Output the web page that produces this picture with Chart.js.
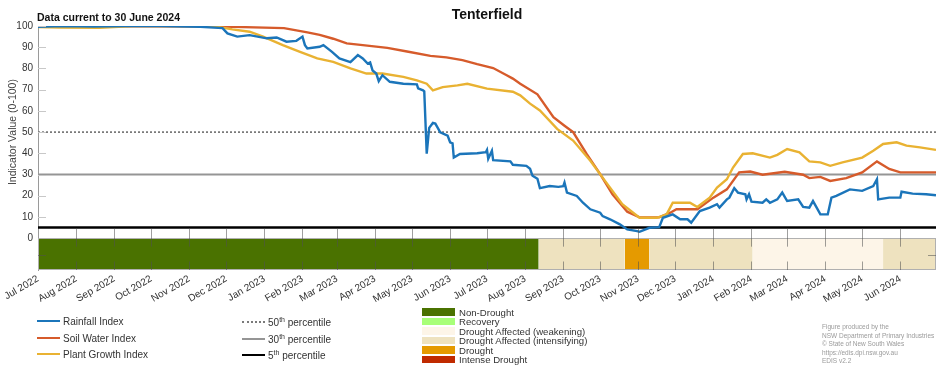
<!DOCTYPE html>
<html>
<head>
<meta charset="utf-8">
<script src="https://cdn.jsdelivr.net/npm/chart.js@4.4.1/dist/chart.umd.min.js"></script>
<style>
  body { margin: 0; background: #fff; font-family: "Liberation Sans", Arial, sans-serif; }
  #wrap { position: relative; width: 952px; height: 370px; overflow: hidden; }
  #chart { position: absolute; left: 0; top: 0; }
  .row { position: absolute; display: flex; align-items: center; height: 14px; font-size: 10px; color: #333; white-space: nowrap; }
  .row .sample { width: 23px; margin-right: 3px; }
  .row sup { font-size: 7px; line-height: 0; vertical-align: 4px; }
  .cat { position: absolute; display: flex; align-items: center; height: 9px; font-size: 9.6px; line-height: 9px; color: #333; white-space: nowrap; }
  .cat .sw { width: 33px; height: 7.5px; margin-right: 4px; }
  #credits { position: absolute; left: 822px; top: 323px; font-size: 6.5px; line-height: 8.6px; color: #9a9a9a; }
</style>
</head>
<body>
<div id="wrap">
  <canvas id="chart" width="952" height="370"></canvas>
  <div id="legend"></div>
  <div id="credits">Figure produced by the<br>NSW Department of Primary Industries<br>&copy; State of New South Wales<br>https://edis.dpi.nsw.gov.au<br>EDIS v2.2</div>
</div>
<script>
// x values are days since 1 July 2022
const monthLabels = ["Jul 2022","Aug 2022","Sep 2022","Oct 2022","Nov 2022","Dec 2022",
  "Jan 2023","Feb 2023","Mar 2023","Apr 2023","May 2023","Jun 2023",
  "Jul 2023","Aug 2023","Sep 2023","Oct 2023","Nov 2023","Dec 2023",
  "Jan 2024","Feb 2024","Mar 2024","Apr 2024","May 2024","Jun 2024"];
const yTicks = [0,10,20,30,40,50,60,70,80,90,100];

const rainfallDays = [0,20,45,70,100,132,150,154,162,172,186,194,202,210,215,217,219,229,232,239,
  245,254,260,264,268,270,272,275,277,280,286,297,308,309,313,314,316,318,321,323,
  327,333,335,337,338,343,357,364,365,366,369,370,384,386,397,400,402,406,408,416,
  423,427,428,430,438,443,449,457,459,465,473,479,487,489,497,505,508,516,522,528,
  531,538,546,552,554,560,562,566,569,575,576,578,580,589,592,595,601,605,609,618,
  622,627,630,633,636,642,645,649,660,670,679,682,683,692,701,702,711,722,730];
const rainfallIndex = [99.6,100,99.7,100,100,99.6,99,96.5,95,95.7,94.2,94.6,92.6,93,95,91,89.4,90.2,91,87.8,
  84.7,83,86.3,84.7,82.3,82.8,79,77.6,74,76.8,73.7,72.8,72.5,70.6,69.7,69.2,39.8,52,54.3,54,
  49.9,48.3,45.2,44.7,38,39.7,40,40.5,41.6,37.4,41.2,36.8,36.2,34.6,34.1,32.7,29.4,28,23.6,24.6,
  24.2,24.5,26.2,21.5,19.9,16.7,13.6,12,10.4,8.9,6.5,4.1,3.3,3,4.9,5.2,9.6,11.2,8.9,8.9,
  7.3,12.8,14.4,16,14.4,18.3,19.1,23.6,21.5,20.7,18.3,20.7,17.2,16.7,18.3,16.7,18.3,21.5,17.5,18.3,
  14.7,14.4,17.5,14.4,11.2,11.2,19.1,19.9,23,22.3,24.6,27.8,18.3,19.1,19.1,21.9,21,20.7,20.2];

const soilDays = [0,100,150,200,219,229,240,251,264,284,300,319,332,345,357,370,381,386,392,406,
  419,428,435,446,457,467,479,489,505,514,519,536,549,560,570,579,589,607,622,627,
  636,644,657,670,682,692,701,730];
const soilWater = [100,99.9,99.7,99,97,95.8,94,91.8,91,89.7,88,85.9,85.2,83.9,82,80.2,76.8,75.2,72.8,67.8,
  57,53,50,39.7,30.2,20.7,12.5,9.8,9.8,12,13.6,13.6,19.1,23,31,31.4,29.9,31.3,29.9,28.3,
  28.9,27,28.3,31,36.2,32.6,31,31];

const plantDays = [0,18,50,77,142,145,158,172,183,199,213,227,240,254,267,280,297,308,316,321,
  329,341,349,365,386,392,400,408,422,435,449,462,475,489,503,511,516,530,536,546,
  552,560,565,573,581,595,601,609,619,627,636,644,654,670,679,687,698,706,717,730];
const plantGrowth = [99.5,99.3,99.2,100,100,99.7,98.4,97.3,95,91,87.8,84.7,83.1,80,77.6,77.6,76,74.4,72.8,69.7,
  71.2,72,72.8,70.5,69,67.3,63.4,60.2,51.5,46,36.5,26.2,16,9.6,9.6,11.2,16.7,16.7,14.7,19.1,
  23.9,27.8,33.3,39.7,40,38,39.3,42,40.4,36.2,35.7,34.1,35.7,38,41.2,44.4,45.2,43.6,42.8,41.6];

const indexNames = ["Rainfall Index","Soil Water Index","Plant Growth Index"];
const indexColours = ["#1b75ba","#d65b2b","#e9b232"];

const percentiles = [50,30,5];
const percentileNames = ["50<sup>th</sup> percentile","30<sup>th</sup> percentile","5<sup>th</sup> percentile"];

const droughtCategories = ["Non-Drought","Recovery","Drought Affected (weakening)",
  "Drought Affected (intensifying)","Drought","Intense Drought"];
const categoryColours = ["#4a7200","#a8ff78","#fdf5e8","#eee2bf","#e59a00","#c02a00"];
const periodStart = [0,407,477,497,581,687];
const periodEnd = [407,477,497,581,687,730];
const periodCategory = [0,3,4,3,2,3];

const lastDay = 730;
const monthIdx = {Jan:0,Feb:1,Mar:2,Apr:3,May:4,Jun:5,Jul:6,Aug:7,Sep:8,Oct:9,Nov:10,Dec:11};
const start = Date.UTC(2022,6,1);
const monthTicks = monthLabels.map(l => {
  const [m, y] = l.split(" ");
  return (Date.UTC(+y, monthIdx[m], 1) - start) / 86400000;
});

const pts = (xs, ys) => xs.map((x, i) => ({x: x, y: ys[i]}));

const datasets = [];
[[rainfallDays, rainfallIndex], [soilDays, soilWater], [plantDays, plantGrowth]].forEach((s, i) => {
  datasets.push({
    label: indexNames[i], data: pts(s[0], s[1]),
    borderColor: indexColours[i], borderWidth: 2.4, pointRadius: 0, tension: 0,
    order: [1,3,2][i]
  });
});
const pStyles = [
  {borderColor: "#7a7a7a", borderWidth: 1.6, borderDash: [2,2]},
  {borderColor: "#959595", borderWidth: 2},
  {borderColor: "#000", borderWidth: 2.4}
];
percentiles.forEach((p, i) => {
  datasets.push(Object.assign({
    label: "p" + p, data: [{x: 0, y: p}, {x: lastDay, y: p}], pointRadius: 0, order: 5 + i
  }, pStyles[i]));
});
periodStart.forEach((s, i) => {
  datasets.push({
    label: droughtCategories[periodCategory[i]],
    data: [{x: s, y: 0}, {x: periodEnd[i], y: 0}],
    borderWidth: 0, pointRadius: 0,
    backgroundColor: categoryColours[periodCategory[i]],
    fill: {value: -15}, order: 20
  });
});

const decorations = {
  id: "decorations",
  afterDatasetsDraw(chart) {
    const {ctx, chartArea: a, scales: {x, y}} = chart;
    ctx.save();
    ctx.lineWidth = 1;
    // band outline
    ctx.strokeStyle = "#b0b0b0";
    const bt = Math.round(y.getPixelForValue(0)) + 0.5, bb = Math.round(y.getPixelForValue(-15)) - 0.5;
    ctx.strokeRect(a.left + 0.5, bt, a.right - a.left - 1, bb - bt);
    // month tick marks
    ctx.strokeStyle = "rgba(80,80,80,0.55)";
    monthTicks.forEach((d, i) => {
      if (i === 0) return;
      const px = Math.round(x.getPixelForValue(d)) + 0.5;
      ctx.beginPath();
      ctx.moveTo(px, y.getPixelForValue(4.6)); ctx.lineTo(px, y.getPixelForValue(-4));
      ctx.moveTo(px, y.getPixelForValue(-11)); ctx.lineTo(px, y.getPixelForValue(-15));
      ctx.stroke();
    });
    // inner y tick marks
    ctx.strokeStyle = "#c8c8c8";
    yTicks.forEach(v => {
      if (v === 0) return;
      const py = Math.round(y.getPixelForValue(v)) + 0.5;
      ctx.beginPath(); ctx.moveTo(a.left, py); ctx.lineTo(a.left + 8, py); ctx.stroke();
    });
    ctx.strokeStyle = "rgba(80,80,80,0.55)";
    const pm = Math.round(y.getPixelForValue(-8)) + 0.5;
    ctx.beginPath();
    ctx.moveTo(a.left, pm); ctx.lineTo(a.left + 8, pm);
    ctx.moveTo(a.right - 8, pm); ctx.lineTo(a.right, pm);
    ctx.stroke();
    ctx.restore();
  },
  afterDraw(chart) {
    const {ctx, chartArea: a, scales: {y}} = chart;
    ctx.save();
    ctx.fillStyle = "#111";
    ctx.font = "bold 14px 'Liberation Sans', Arial, sans-serif";
    ctx.textAlign = "center";
    ctx.fillText("Tenterfield", (a.left + a.right) / 2, 19);
    ctx.font = "bold 10.5px 'Liberation Sans', Arial, sans-serif";
    ctx.textAlign = "left";
    ctx.fillText("Data current to 30 June 2024", 37, 21);
    ctx.fillStyle = "#444";
    ctx.font = "10.5px 'Liberation Sans', Arial, sans-serif";
    ctx.translate(13, (y.getPixelForValue(0) + y.getPixelForValue(100)) / 2);
    ctx.rotate(-Math.PI / 2);
    ctx.textAlign = "center";
    ctx.textBaseline = "middle";
    ctx.fillText("Indicator Value (0-100)", 0, 0);
    ctx.restore();
  }
};

new Chart(document.getElementById("chart"), {
  type: "line",
  data: {datasets: datasets},
  plugins: [decorations],
  options: {
    responsive: false,
    animation: false,
    layout: {padding: {top: 26, right: 16, left: 0, bottom: 0}},
    plugins: {legend: {display: false}, tooltip: {enabled: false}},
    scales: {
      x: {
        type: "linear", min: 0, max: lastDay,
        afterBuildTicks: s => { s.ticks = monthTicks.map(v => ({value: v})); },
        afterFit: s => { s.height = 100; },
        ticks: {
          autoSkip: false, maxRotation: 30, minRotation: 30, padding: 3,
          color: "#333", font: {size: 10, family: "'Liberation Sans', Arial, sans-serif"},
          callback: (v, i) => monthLabels[i]
        },
        grid: {display: false, drawTicks: false},
        border: {display: false}
      },
      y: {
        min: -15, max: 100,
        afterBuildTicks: s => { s.ticks = yTicks.map(v => ({value: v})); },
        afterFit: s => { s.width = 38; },
        ticks: {
          padding: 5, color: "#333", font: {size: 10, family: "'Liberation Sans', Arial, sans-serif"}
        },
        grid: {display: false, drawTicks: false},
        border: {display: true, color: "#9a9a9a", width: 1}
      }
    }
  }
});

// legends
const legend = document.getElementById("legend");
const indexRows = [321, 338, 354];
indexNames.forEach((n, i) => {
  const r = document.createElement("div");
  r.className = "row";
  r.style.left = "37px"; r.style.top = (indexRows[i] - 7) + "px";
  r.innerHTML = `<span class="sample" style="border-top:2.5px solid ${indexColours[i]}"></span><span>${n}</span>`;
  legend.append(r);
});
const pSample = ["2px dotted #7a7a7a", "2.5px solid #959595", "2.5px solid #000"];
const pRows = [322, 339, 355];
percentileNames.forEach((n, i) => {
  const r = document.createElement("div");
  r.className = "row";
  r.style.left = "242px"; r.style.top = (pRows[i] - 7) + "px";
  r.innerHTML = `<span class="sample" style="border-top:${pSample[i]}"></span><span>${n}</span>`;
  legend.append(r);
});
droughtCategories.forEach((n, i) => {
  const r = document.createElement("div");
  r.className = "cat";
  r.style.left = "422px"; r.style.top = (312 + i * 9.5 - 4.5) + "px";
  r.innerHTML = `<span class="sw" style="background:${categoryColours[i]}"></span><span>${n}</span>`;
  legend.append(r);
});
</script>
</body>
</html>
